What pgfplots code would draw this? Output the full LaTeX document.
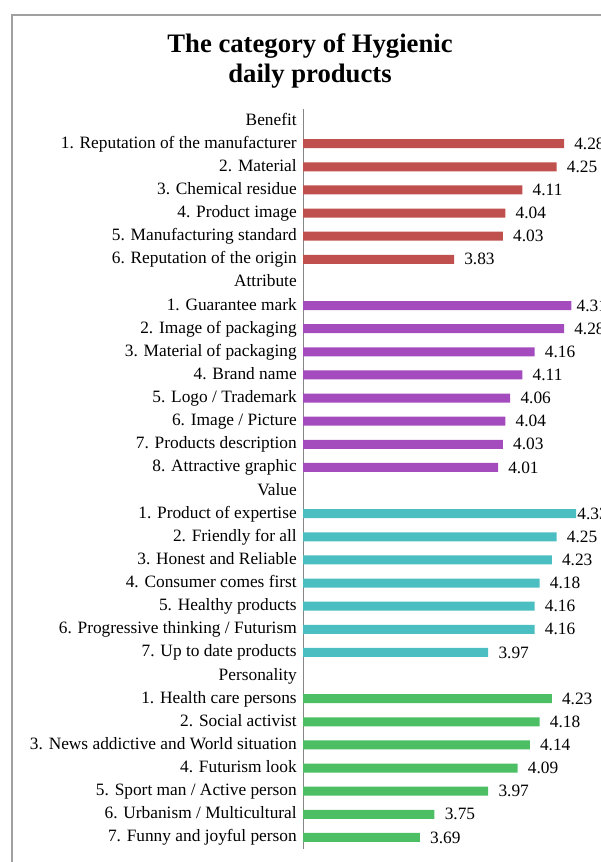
\documentclass[border=0pt]{standalone}
\usepackage{fontspec}
\setmainfont{Liberation Serif}
\usepackage{pgfplots}
\pgfplotsset{compat=1.18}
\definecolor{cred}{RGB}{192,80,77}
\definecolor{cpur}{RGB}{164,76,190}
\definecolor{cteal}{RGB}{75,190,193}
\definecolor{cgreen}{RGB}{76,190,100}
\definecolor{framegray}{RGB}{160,160,160}
\definecolor{axgray}{RGB}{134,134,134}
\begin{document}
\begin{tikzpicture}
\def\u{0.75pt}
\draw[framegray, line width=1pt] (12*\u,-15*\u) rectangle (660*\u,-900*\u);
\node[font=\fontsize{20}{24}\selectfont\bfseries, anchor=base, inner sep=0pt] at (310*\u,-53*\u) {The category of Hygienic};
\node[font=\fontsize{20}{24}\selectfont\bfseries, anchor=base, inner sep=0pt] at (310*\u,-83*\u) {daily products};
\begin{axis}[
  at={(303*\u,-109*\u)}, anchor=north west,
  scale only axis, width=252.75pt, height=555pt,
  xbar, bar width=0.39, bar shift=0pt,
  xmin=3.212, xmax=4.591, ymin=-0.5, ymax=31.5, y dir=reverse,
  axis x line=none, axis y line*=left,
  y axis line style={draw=axgray, line width=0.75pt},
  ytick={0,...,31},
  yticklabels={Benefit,
    1. Reputation of the manufacturer, 2. Material, 3. Chemical residue, 4. Product image, 5. Manufacturing standard, 6. Reputation of the origin,
    Attribute,
    1. Guarantee mark, 2. Image of packaging, 3. Material of packaging, 4. Brand name, 5. Logo / Trademark, 6. Image / Picture, 7. Products description, 8. Attractive graphic,
    Value,
    1. Product of expertise, 2. Friendly  for all, 3. Honest and Reliable, 4. Consumer comes first, 5. Healthy products, 6. Progressive  thinking / Futurism, 7. Up to date products,
    Personality,
    1. Health care persons, 2. Social activist, 3. News  addictive and World situation, 4. Futurism look, 5. Sport man / Active person, 6. Urbanism / Multicultural, 7. Funny and joyful person},
  major tick length=0pt,
  yticklabel style={font=\fontsize{13}{15}\selectfont, anchor=base east, inner sep=0pt, xshift=-4.5pt, yshift=-3.4pt},
  point meta=x,
  nodes near coords, nodes near coords align=horizontal,
  visualization depends on={value \thisrow{off} \as \myoff},
  every node near coord/.append style={font=\fontsize{13}{15}\selectfont, inner sep=0pt, anchor=base west, xshift=\myoff pt, yshift=-4.2pt, text=black},
  /pgf/number format/.cd, fixed, precision=2, zerofill, assume math mode=true, /pgfplots/.cd,
]
\addplot[fill=cred, draw=none] table[x=v, y=y] {
y v off
1 4.28 7.5
2 4.25 7.5
3 4.11 7.5
4 4.04 7.5
5 4.03 7.5
6 3.83 7.5
};
\addplot[fill=cpur, draw=none] table[x=v, y=y] {
y v off
8 4.31 3.75
9 4.28 7.5
10 4.16 7.5
11 4.11 7.5
12 4.06 7.5
13 4.04 7.5
14 4.03 7.5
15 4.01 7.5
};
\addplot[fill=cteal, draw=none] table[x=v, y=y] {
y v off
17 4.33 0.75
18 4.25 7.5
19 4.23 7.5
20 4.18 7.5
21 4.16 7.5
22 4.16 7.5
23 3.97 7.5
};
\addplot[fill=cgreen, draw=none] table[x=v, y=y] {
y v off
25 4.23 7.5
26 4.18 7.5
27 4.14 7.5
28 4.09 7.5
29 3.97 7.5
30 3.75 7.5
31 3.69 7.5
};
\end{axis}
\pgfresetboundingbox
\path[use as bounding box] (0,0) rectangle (600*\u,-862*\u);
\end{tikzpicture}
\end{document}
